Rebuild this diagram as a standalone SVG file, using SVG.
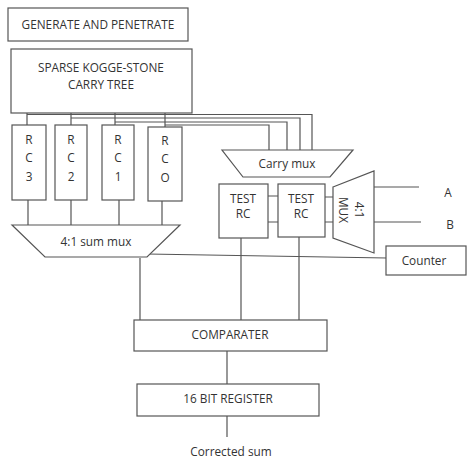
<svg xmlns="http://www.w3.org/2000/svg" width="469" height="460" viewBox="0 0 469 460">
<style>
.b{fill:#fff;stroke:#555;stroke-width:1.2}
.l{fill:none;stroke:#555;stroke-width:1.2}
text{font-family:"Open Sans","Liberation Sans",sans-serif;font-size:11.8px;fill:#333;text-anchor:middle;dominant-baseline:central}
</style>
<rect width="469" height="460" fill="#fff"/>
<g id="connectors">
<path class="l" d="M27 113V125M71 113V125M115 113V125M165 113V127"/>
<path class="l" d="M27 114.5H312V150M71 118H300V150M115 122H287V150M165 125H269V150"/>
<path class="l" d="M28 200V225M71 200V225M119 200V225M162 201V225"/>
<path class="l" d="M268 196H278M268 222H278M325 197H333M325 222H333"/>
<path class="l" d="M374 187H419M374 222H421"/>
<path class="l" d="M147 254L387 258"/>
<path class="l" d="M140 258V320M241 238V320M299 237V320"/>
<path class="l" d="M227 351V384M227 416V437"/>
</g>
<g id="gen"><rect class="b" x="8" y="8" width="180" height="33"/><text x="98" y="24">GENERATE AND PENETRATE</text></g>
<g id="tree"><rect class="b" x="11" y="49" width="181" height="64"/><text x="101" y="67">SPARSE KOGGE-STONE</text><text x="101" y="84">CARRY TREE</text></g>
<g id="rc3"><rect class="b" x="12" y="125" width="34" height="75"/><text x="29" y="139">R</text><text x="29" y="157">C</text><text x="29" y="176">3</text></g>
<g id="rc2"><rect class="b" x="55" y="125" width="32" height="75"/><text x="71" y="139">R</text><text x="71" y="157">C</text><text x="71" y="176">2</text></g>
<g id="rc1"><rect class="b" x="102" y="125" width="32" height="75"/><text x="118" y="139">R</text><text x="118" y="157">C</text><text x="118" y="176">1</text></g>
<g id="rc0"><rect class="b" x="148" y="127" width="34" height="74"/><text x="165" y="140">R</text><text x="165" y="158">C</text><text x="165" y="177">O</text></g>
<g id="summux"><path class="b" d="M12 225H180L147 257H45Z"/><text x="96" y="241">4:1 sum mux</text></g>
<g id="carrymux"><path class="b" d="M222 150H353L330 177H243Z"/><text x="287" y="163">Carry mux</text></g>
<g id="testrc1"><rect class="b" x="219" y="184" width="49" height="54"/><text x="243" y="198">TEST</text><text x="243" y="213">RC</text></g>
<g id="testrc2"><rect class="b" x="278" y="184" width="47" height="53"/><text x="301" y="198">TEST</text><text x="301" y="213">RC</text></g>
<g id="mux41"><path class="b" d="M333 187L374 171V253L333 238Z"/><g transform="rotate(90 352 210)"><text x="352" y="202">4:1</text><text x="352" y="218">MUX</text></g></g>
<g id="a"><text x="448" y="192">A</text></g>
<g id="bl"><text x="450" y="224">B</text></g>
<g id="counter"><rect class="b" x="386" y="246" width="80" height="29"/><text x="424" y="260">Counter</text></g>
<g id="comp"><rect class="b" x="134" y="320" width="193" height="31"/><text x="230" y="334">COMPARATER</text></g>
<g id="reg"><rect class="b" x="137" y="384" width="182" height="32"/><text x="228" y="398">16 BIT REGISTER</text></g>
<g id="out"><text x="231" y="451">Corrected sum</text></g>
</svg>
